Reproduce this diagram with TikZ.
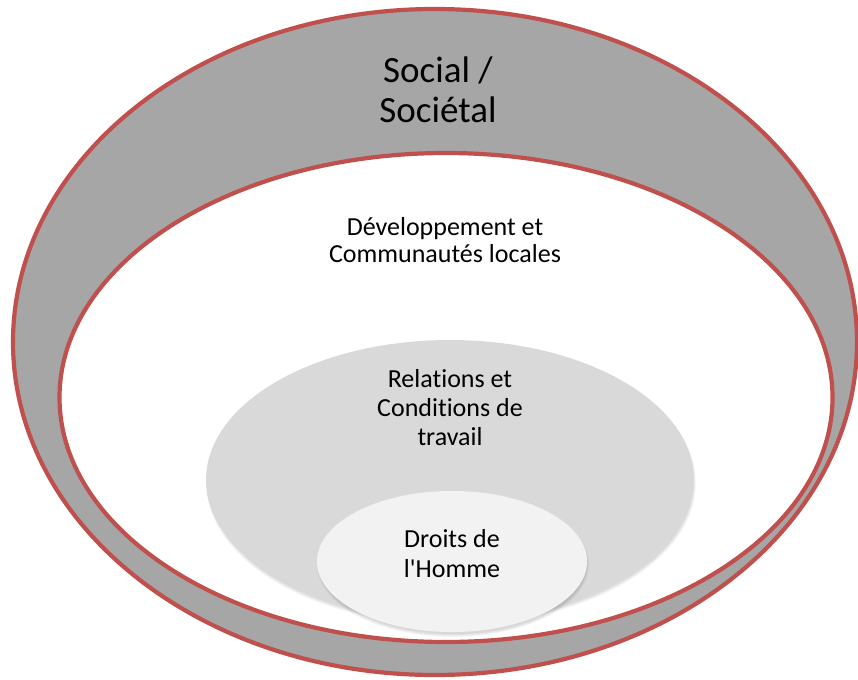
\documentclass[tikz,border=0pt]{standalone}
\usepackage{fontspec}
\setmainfont{Carlito}[Ligatures={TeXOff,NoCommon}]
\usetikzlibrary{shapes.geometric}
\definecolor{ringred}{HTML}{C0504D}
\definecolor{ringgray}{HTML}{A6A6A6}
\definecolor{midgray}{HTML}{D9D9D9}
\definecolor{palegray}{HTML}{F2F2F2}
\tikzset{
  ring/.style={ellipse, draw=ringred, line width=4.2pt, inner sep=0pt},
  disc/.style={ellipse, inner sep=0pt, draw=none},
  label/.style={align=center, inner sep=0pt, anchor=base, text=black},
}
\begin{document}
\begin{tikzpicture}[x=1pt,y=-1pt]
\useasboundingbox (0,0) rectangle (858,679);
\fill[white] (0,0) rectangle (858,679);
% outer ring
\node[ring, fill=ringgray, minimum width=844pt, minimum height=666pt] (outer) at (435,342) {};
% inner white
\node[ring, fill=white, minimum width=773pt, minimum height=489pt] (inner) at (446,397.5) {};
% shadow of medium
\foreach \k in {0,...,3}{
  \fill[black, opacity=0.035] (451,483) ellipse [x radius={242pt+\k pt}, y radius={139pt+\k pt}];
}
\node[disc, fill=midgray, minimum width=488pt, minimum height=280pt] (mid) at (450,480) {};
% shadow of small
\foreach \k in {0,...,3}{
  \fill[black, opacity=0.04] (453,564.5) ellipse [x radius={133pt+\k pt}, y radius={69.5pt+\k pt}];
}
\node[disc, fill=palegray, minimum width=270pt, minimum height=141pt] (small) at (452,561.5) {};
% texts (anchor = baseline of the last line)
\node[label, font=\fontsize{37}{40}\selectfont] (tsocial) at (438,123) {Social /\\Sociétal};
\node[label, font=\fontsize{26}{27}\selectfont] (tdev) at (445,262) {Développement et\\Communautés locales};
\node[label, font=\fontsize{26}{29}\selectfont] (trel) at (450,445) {Relations et\\Conditions de\\travail};
\node[label, font=\fontsize{26}{30}\selectfont] (tdroits) at (452,577) {Droits de\\l'Homme};
\end{tikzpicture}
\end{document}
